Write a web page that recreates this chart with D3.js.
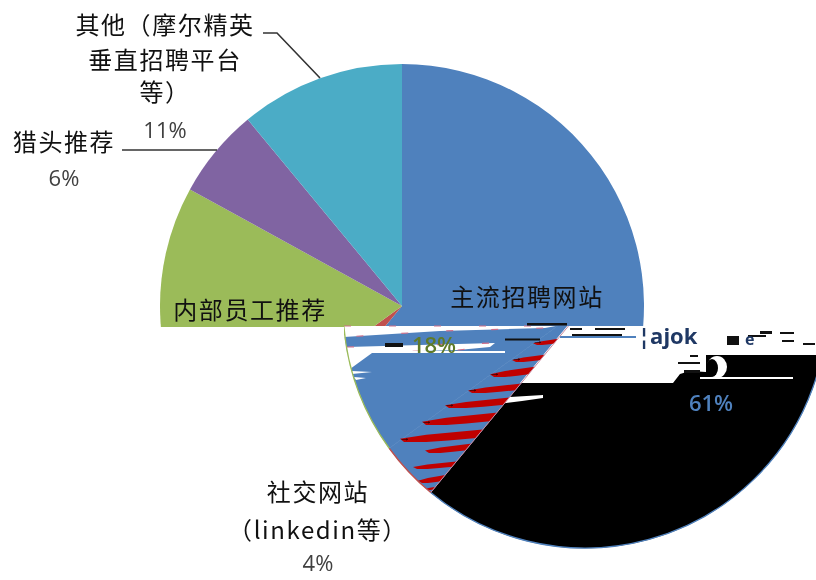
<!DOCTYPE html>
<html><head><meta charset="utf-8">
<script src="https://cdn.jsdelivr.net/npm/d3@7/dist/d3.min.js"></script>
<style>html,body{margin:0;padding:0;background:#fff}svg{display:block;filter:blur(0.45px)}</style>
</head><body><svg id="c" width="816" height="580"></svg>
<script>
const categories=["主流招聘网站","社交网站（linkedin等）","内部员工推荐","猎头推荐","其他（摩尔精英垂直招聘平台等）"];
const shares=[61,4,18,6,11];
const sliceColors=["#4F81BD","#C0504D","#9BBB59","#8064A2","#4BACC6"];
const labelLines=[["主流招聘网站"],["社交网站","（linkedin等）"],["内部员工推荐"],["猎头推荐"],["其他（摩尔精英","垂直招聘平台","等）"]];
const percentLabels=["61%","4%","18%","6%","11%"];

const W=816,H=580,R=242,cx=402,cy=306,shift=183,cutY=326;
const svg=d3.select("#c");
const cjk='"Noto Sans CJK SC",sans-serif', lat='"Open Sans",sans-serif';
const pie=d3.pie().sort(null)(shares);
const arc=d3.arc().innerRadius(0).outerRadius(R);
const rim=d3.arc().innerRadius(R).outerRadius(R);
const defs=svg.append("defs");
defs.append("clipPath").attr("id","top").append("path").attr("d",`M0 0H${W}V${cutY}H344V327H0Z`);
defs.append("clipPath").attr("id","bot").append("rect").attr("x",344).attr("y",cutY).attr("width",W).attr("height",H);
const wedge=d3.arc().innerRadius(0).outerRadius(R).startAngle(pie[1].startAngle).endAngle(pie[2].endAngle)();
defs.append("clipPath").attr("id","wedge").append("path").attr("d",wedge).attr("transform",`translate(${cx+shift},${cy})`);
const voidPoly=[[520,326],[816,326],[816,355],[706,355],[706,372],[690,371],[680,374],[673,383],[500,383]];
const notchPoly=[[498,404],[510,397],[543,395],[543,398],[522,401]];
const cp=defs.append("clipPath").attr("id","void");
[voidPoly,notchPoly].forEach(p=>cp.append("polygon").attr("points",p.join(" ")));

// intact upper part
svg.append("g").attr("clip-path","url(#top)")
  .append("g").attr("transform",`translate(${cx},${cy})`)
  .selectAll("path").data(pie).join("path").attr("d",arc).attr("fill",(d,i)=>sliceColors[i]);

// displaced lower part
const low=svg.append("g").attr("clip-path","url(#bot)");
const lowG=low.append("g").attr("transform",`translate(${cx+shift},${cy})`);
lowG.selectAll("path.s").data(pie).join("path").attr("class","s").attr("d",arc)
  .attr("fill",(d,i)=>i===0?"#000":"#4F81BD").attr("stroke",(d,i)=>i===0?"#000":"#4F81BD").attr("stroke-width",.5);
low.append("g").attr("clip-path","url(#void)").append("g").attr("transform",`translate(${cx+shift},${cy})`)
  .append("path").attr("d",arc(pie[0])).attr("fill","#fff").attr("stroke","#fff").attr("stroke-width",2);

// red scan-line streaks inside the wedge: [left x, left y, right x, right top y]
const streaks=[[533,345,563,338],[512,362,550,354],[490,377,540,366],[468,393,526,383],[445,408,515,397],[422,425,503,412],[400,442,488,429],[425,453,476,443],[413,469,461,461],[418,483,451,474],[425,490,441,486]];
svg.append("g").attr("clip-path","url(#wedge)").selectAll("path").data(streaks).join("path")
  .attr("d",d=>{const w=d[2]-d[0],h=d[1]-d[3];
    return `M${d[0]} ${d[1]-h*.25}L${d[0]+w*.3} ${d[1]-h*.55}L${d[2]} ${d[3]}L${d[2]} ${d[3]+h*.62}L${d[0]+w*.55} ${d[1]-h*.12}L${d[0]+w*.3} ${d[1]}L${d[0]+4} ${d[1]}Z`;})
  .attr("fill","#C00000");
svg.append("g").selectAll("text").data(streaks.slice(0,7)).join("text")
  .attr("x",d=>d[0]+5).attr("y",d=>d[1]-1).attr("text-anchor","middle")
  .attr("font-family",lat).attr("font-size",11).attr("font-weight","bold").attr("fill","#000").text("→");

// white scan-line gaps over the wedge
const gaps=[
 [[344,326],[556,326],[545,328],[440,331],[344,337]],
 [[347,347],[420,345],[495,343],[490,347],[458,350],[347,353]],
 [[347,351],[505,351],[505,353],[347,353]],
 [[347,353],[372,353],[350,369]],
 [[352,371],[372,372],[352,374]],[[354,377],[366,378],[356,380]]];
svg.append("g").selectAll("polygon").data(gaps).join("polygon").attr("points",d=>d.join(" ")).attr("fill","#fff")
  .attr("stroke",(d,i)=>i<2?"#D0708A":"none").attr("stroke-width",1.2).attr("stroke-dasharray","7 38");
svg.append("rect").attr("x",560).attr("y",336).attr("width",76).attr("height",2).attr("fill","#4F81BD");

// rims of the displaced slices, on top of the gaps
const lowRim=svg.append("g").attr("clip-path","url(#bot)").append("g").attr("transform",`translate(${cx+shift},${cy})`).attr("fill","none");
lowRim.selectAll("path.r").data(pie).join("path").attr("class","r").attr("d",rim)
  .attr("stroke",(d,i)=>i===0?"#4F81BD":sliceColors[i]).attr("stroke-width",1.3);
lowRim.append("path").attr("d",d3.line()([[0,0],d3.pointRadial(pie[0].endAngle,R)])).attr("stroke","#C98AA0").attr("stroke-width",1);

// crescent and stray line on the black slice
svg.append("ellipse").attr("cx",717).attr("cy",367).attr("rx",10).attr("ry",11).attr("fill","#fff");
svg.append("ellipse").attr("cx",712).attr("cy",368).attr("rx",6).attr("ry",9).attr("fill","#000");
svg.append("rect").attr("x",700).attr("y",377).attr("width",93).attr("height",2).attr("fill","#fff");
// black fragments of the broken label
const frags=[[527,323,40,2.5],[505,338.5,35,2],[385,343,18,4],[570,328,12,2],[595,328,30,2],[572,334,50,2],[678,362,22,2],[684,370,16,3],[690,355,8,2],[727,336,12,9],[748,335,18,2],[760,331,12,3],[780,332,14,2],[782,340,12,2],[803,343,12,2]];
svg.append("g").selectAll("rect").data(frags).join("rect")
  .attr("x",d=>d[0]).attr("y",d=>d[1]).attr("width",d=>d[2]).attr("height",d=>d[3]).attr("fill","#111");

// leader lines
const leaders=[[[263,33],[277,33],[320,78]],[[122,150],[217,150]]];
svg.append("g").selectAll("path").data(leaders).join("path").attr("d",d3.line()).attr("fill","none").attr("stroke","#333").attr("stroke-width",1.6);

// labels
const labelPos=[{x:527,y:[297]},{x:318,y:[492,530]},{x:250,y:[310]},{x:64,y:[142]},{x:165,y:[25,60,92]}];
const pctPos=[{x:711,y:403,c:"#4F81BD"},{x:318,y:563,c:"#404040"},{x:434,y:345,c:"#5F7A28"},{x:64,y:178,c:"#404040"},{x:165,y:130,c:"#404040"}];
labelLines.forEach((ls,i)=>ls.forEach((t,j)=>{
  svg.append("text").attr("x",labelPos[i].x).attr("y",labelPos[i].y[j]).attr("dy","0.36em").attr("text-anchor","middle")
   .attr("font-family",cjk).attr("font-size",24).attr("letter-spacing",1.6).attr("fill","#111").text(t);
}));
percentLabels.forEach((t,i)=>{
  const dark=i===0||i===2;
  svg.append("text").attr("x",pctPos[i].x).attr("y",pctPos[i].y).attr("dy","0.36em").attr("text-anchor","middle")
   .attr("font-family",lat).attr("font-size",22).attr("font-weight",dark?600:400).attr("fill",pctPos[i].c).text(t);
});
// fragments of the source-list label
svg.append("text").attr("x",638).attr("y",344).attr("font-family",lat).attr("font-weight","bold").attr("font-size",22).attr("fill","#1F3864").text("¦ajok");
svg.append("text").attr("x",745).attr("y",345).attr("font-family",lat).attr("font-weight","bold").attr("font-size",16).attr("fill","#1F3864").text("e");
</script></body></html>
